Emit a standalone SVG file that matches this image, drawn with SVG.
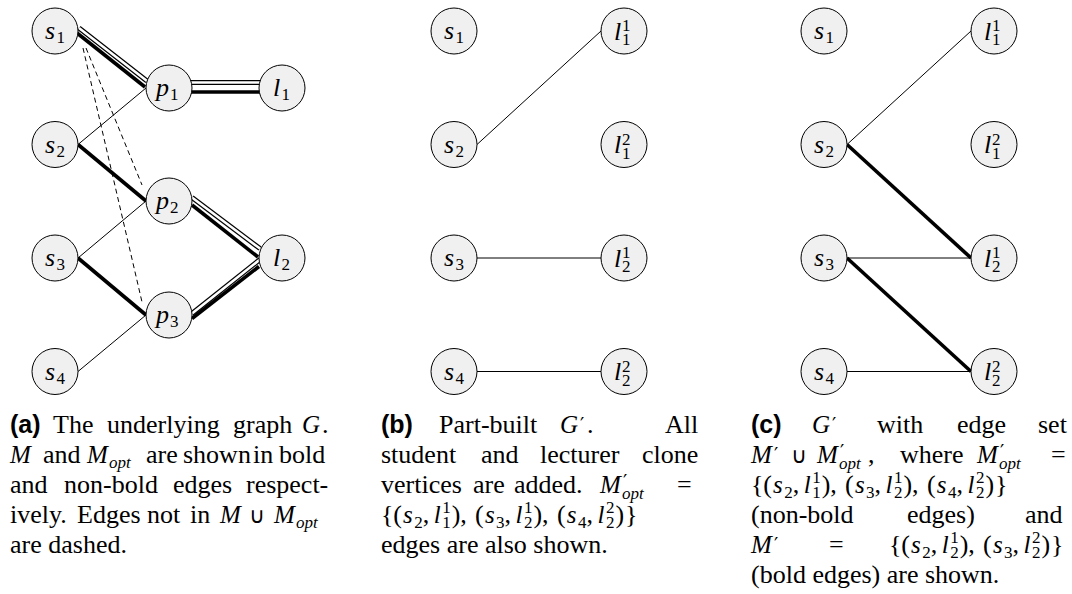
<svg xmlns="http://www.w3.org/2000/svg" width="1072" height="594" viewBox="0 0 1072 594">
<style>
.node circle{fill:#f0f0f0;stroke:#000;stroke-width:1}
text{fill:#000}
.mi{font-family:'Liberation Serif',serif;font-style:italic;font-size:26px}
.sc{font-family:'Liberation Serif',serif;font-size:17px}
.sci{font-family:'Liberation Serif',serif;font-style:italic;font-size:17px}
.cap{font-family:'Liberation Serif',serif;font-size:26px}
.capi{font-family:'Liberation Serif',serif;font-style:italic;font-size:25px}
.capb{font-family:'Liberation Sans',sans-serif;font-weight:bold;font-size:25px}
.pr{font-family:'DejaVu Sans',sans-serif;font-size:19px}
.cup{font-family:'DejaVu Sans',sans-serif;font-size:22px}
.thin{stroke:#000;stroke-width:1;fill:none}
.thick{stroke:#000;stroke-width:3.6;fill:none}
.dblo{stroke:#000;stroke-width:5;fill:none}
.dbli{stroke:#fff;stroke-width:2.6;fill:none}
.dash{stroke:#000;stroke-width:1;stroke-dasharray:5 3.5;fill:none}
</style>

<g id="connectors">
  <line class="dash" x1="86" y1="48" x2="142" y2="185"/>
  <line class="dash" x1="83" y1="48" x2="142" y2="302"/>
  <line class="dblo" x1="79" y1="28" x2="147" y2="81"/>
  <line class="dbli" x1="79" y1="28" x2="147" y2="81"/>
  <line class="thick" x1="77" y1="33" x2="145" y2="87"/>
  <line class="dblo" x1="190" y1="82.5" x2="261" y2="82.5"/>
  <line class="dbli" x1="190" y1="82.5" x2="261" y2="82.5"/>
  <line class="thick" x1="190" y1="92" x2="261" y2="92"/>
  <line class="thin" x1="78" y1="144.5" x2="146" y2="88"/>
  <line class="thick" x1="78" y1="144.5" x2="146" y2="201"/>
  <line class="thin" x1="78" y1="258" x2="146" y2="201"/>
  <line class="thick" x1="78" y1="258" x2="146" y2="315"/>
  <line class="thin" x1="78" y1="371.5" x2="146" y2="315"/>
  <line class="dblo" x1="192" y1="197.5" x2="260" y2="248.5"/>
  <line class="dbli" x1="192" y1="197.5" x2="260" y2="248.5"/>
  <line class="thick" x1="192" y1="205" x2="258" y2="257"/>
  <line class="dblo" x1="192" y1="313.5" x2="260" y2="259.5"/>
  <line class="dbli" x1="192" y1="313.5" x2="260" y2="259.5"/>
  <line class="thick" x1="192" y1="318.5" x2="259" y2="266.5"/>
  <line class="thin" x1="477" y1="144.5" x2="601" y2="31"/>
  <line class="thin" x1="477" y1="258" x2="601" y2="258"/>
  <line class="thin" x1="477" y1="371.5" x2="601" y2="371.5"/>
  <line class="thin" x1="847" y1="144.5" x2="971" y2="31"/>
  <line class="thick" x1="847" y1="144.5" x2="971" y2="258"/>
  <line class="thin" x1="847" y1="258" x2="971" y2="258"/>
  <line class="thick" x1="847" y1="258" x2="971" y2="371.5"/>
  <line class="thin" x1="847" y1="371.5" x2="971" y2="371.5"/>
</g>

<g id="a-s1" class="node"><circle cx="55" cy="31" r="23"/><text class="mi" x="45" y="39">s</text><text class="sc" x="56.5" y="43">1</text></g>
<g id="a-s2" class="node"><circle cx="55" cy="144.5" r="23"/><text class="mi" x="45" y="152.5">s</text><text class="sc" x="56.5" y="156.5">2</text></g>
<g id="a-s3" class="node"><circle cx="55" cy="258" r="23"/><text class="mi" x="45" y="266">s</text><text class="sc" x="56.5" y="270">3</text></g>
<g id="a-s4" class="node"><circle cx="55" cy="371.5" r="23"/><text class="mi" x="45" y="379.5">s</text><text class="sc" x="56.5" y="383.5">4</text></g>
<g id="a-p1" class="node"><circle cx="169" cy="88" r="23"/><text class="mi" x="156" y="96">p</text><text class="sc" x="170" y="100">1</text></g>
<g id="a-p2" class="node"><circle cx="169" cy="201" r="23"/><text class="mi" x="156" y="209">p</text><text class="sc" x="170" y="213">2</text></g>
<g id="a-p3" class="node"><circle cx="169" cy="315" r="23"/><text class="mi" x="156" y="323">p</text><text class="sc" x="170" y="327">3</text></g>
<g id="a-l1" class="node"><circle cx="282" cy="88" r="23"/><text class="mi" x="273" y="96">l</text><text class="sc" x="281.5" y="100">1</text></g>
<g id="a-l2" class="node"><circle cx="282" cy="258" r="23"/><text class="mi" x="273" y="266">l</text><text class="sc" x="281.5" y="270">2</text></g>

<g id="b-s1" class="node"><circle cx="454" cy="31" r="23"/><text class="mi" x="444" y="39">s</text><text class="sc" x="455.5" y="43">1</text></g>
<g id="b-s2" class="node"><circle cx="454" cy="144.5" r="23"/><text class="mi" x="444" y="152.5">s</text><text class="sc" x="455.5" y="156.5">2</text></g>
<g id="b-s3" class="node"><circle cx="454" cy="258" r="23"/><text class="mi" x="444" y="266">s</text><text class="sc" x="455.5" y="270">3</text></g>
<g id="b-s4" class="node"><circle cx="454" cy="371.5" r="23"/><text class="mi" x="444" y="379.5">s</text><text class="sc" x="455.5" y="383.5">4</text></g>
<g id="b-l11" class="node"><circle cx="624" cy="31" r="23"/><text class="mi" x="614" y="39.5">l</text><text class="sc" x="622" y="31">1</text><text class="sc" x="622" y="45">1</text></g>
<g id="b-l12" class="node"><circle cx="624" cy="144.5" r="23"/><text class="mi" x="614" y="153">l</text><text class="sc" x="622" y="144.5">2</text><text class="sc" x="622" y="158.5">1</text></g>
<g id="b-l21" class="node"><circle cx="624" cy="258" r="23"/><text class="mi" x="614" y="266.5">l</text><text class="sc" x="622" y="258">1</text><text class="sc" x="622" y="272">2</text></g>
<g id="b-l22" class="node"><circle cx="624" cy="371.5" r="23"/><text class="mi" x="614" y="380">l</text><text class="sc" x="622" y="371.5">2</text><text class="sc" x="622" y="385.5">2</text></g>

<g id="c-s1" class="node"><circle cx="824" cy="31" r="23"/><text class="mi" x="814" y="39">s</text><text class="sc" x="825.5" y="43">1</text></g>
<g id="c-s2" class="node"><circle cx="824" cy="144.5" r="23"/><text class="mi" x="814" y="152.5">s</text><text class="sc" x="825.5" y="156.5">2</text></g>
<g id="c-s3" class="node"><circle cx="824" cy="258" r="23"/><text class="mi" x="814" y="266">s</text><text class="sc" x="825.5" y="270">3</text></g>
<g id="c-s4" class="node"><circle cx="824" cy="371.5" r="23"/><text class="mi" x="814" y="379.5">s</text><text class="sc" x="825.5" y="383.5">4</text></g>
<g id="c-l11" class="node"><circle cx="994" cy="31" r="23"/><text class="mi" x="984" y="39.5">l</text><text class="sc" x="992" y="31">1</text><text class="sc" x="992" y="45">1</text></g>
<g id="c-l12" class="node"><circle cx="994" cy="144.5" r="23"/><text class="mi" x="984" y="153">l</text><text class="sc" x="992" y="144.5">2</text><text class="sc" x="992" y="158.5">1</text></g>
<g id="c-l21" class="node"><circle cx="994" cy="258" r="23"/><text class="mi" x="984" y="266.5">l</text><text class="sc" x="992" y="258">1</text><text class="sc" x="992" y="272">2</text></g>
<g id="c-l22" class="node"><circle cx="994" cy="371.5" r="23"/><text class="mi" x="984" y="380">l</text><text class="sc" x="992" y="371.5">2</text><text class="sc" x="992" y="385.5">2</text></g>

<g id="caption-a">
<text class="capb" x="10" y="433">(a)</text>
<text class="cap" x="53" y="433">The</text>
<text class="cap" x="107" y="433">underlying</text>
<text class="cap" x="233" y="433">graph</text>
<text class="capi" x="302" y="433">G</text><text class="cap" x="322" y="433">.</text>
<text class="capi" x="10" y="463">M</text>
<text class="cap" x="43" y="463">and</text>
<text class="capi" x="87" y="463">M</text><text class="sci" x="109" y="468">opt</text>
<text class="cap" x="146" y="463">are</text>
<text class="cap" x="183" y="463">shown</text>
<text class="cap" x="253" y="463">in</text>
<text class="cap" x="279" y="463">bold</text>
<text class="cap" x="10" y="493">and</text>
<text class="cap" x="64" y="493">non-bold</text>
<text class="cap" x="173" y="493">edges</text>
<text class="cap" x="246" y="493">respect-</text>
<text class="cap" x="10" y="523">ively.</text>
<text class="cap" x="77" y="523">Edges</text>
<text class="cap" x="147" y="523">not</text>
<text class="cap" x="190" y="523">in</text>
<text class="capi" x="220" y="523">M</text>
<text class="cup" x="249" y="523">&#x222A;</text>
<text class="capi" x="274" y="523">M</text><text class="sci" x="296" y="528">opt</text>
<text class="cap" x="10" y="553">are dashed.</text>
</g>

<g id="caption-b">
<text class="capb" x="381" y="433">(b)</text>
<text class="cap" x="439" y="433">Part-built</text>
<text class="capi" x="560" y="433">G</text><text class="pr" x="580" y="431">&#x2032;</text><text class="cap" x="587" y="433">.</text>
<text class="cap" x="665" y="433">All</text>
<text class="cap" x="381" y="463">student</text>
<text class="cap" x="481" y="463">and</text>
<text class="cap" x="540" y="463">lecturer</text>
<text class="cap" x="642" y="463">clone</text>
<text class="cap" x="381" y="493">vertices</text>
<text class="cap" x="473" y="493">are</text>
<text class="cap" x="514" y="493">added.</text>
<text class="capi" x="600" y="493">M</text><text class="pr" x="623" y="488">&#x2032;</text><text class="sci" x="622" y="499">opt</text>
<text class="cap" x="677" y="493">=</text>
<text class="cap" x="381" y="523">{</text>
<text class="cap" x="393.3" y="523">(</text><text class="capi" x="403.1" y="523">s</text><text class="sc" x="414.3" y="528">2</text><text class="cap" x="422.8" y="523">,</text><text class="capi" x="433.8" y="523">l</text><text class="sc" x="442.3" y="513">1</text><text class="sc" x="442.3" y="528">1</text><text class="cap" x="451.8" y="523">)</text><text class="cap" x="460.3" y="523">,</text>
<text class="cap" x="475.1" y="523">(</text><text class="capi" x="484.9" y="523">s</text><text class="sc" x="496.1" y="528">3</text><text class="cap" x="504.6" y="523">,</text><text class="capi" x="515.6" y="523">l</text><text class="sc" x="524.1" y="513">1</text><text class="sc" x="524.1" y="528">2</text><text class="cap" x="533.6" y="523">)</text><text class="cap" x="542.1" y="523">,</text>
<text class="cap" x="556.9" y="523">(</text><text class="capi" x="566.7" y="523">s</text><text class="sc" x="577.9" y="528">4</text><text class="cap" x="586.4" y="523">,</text><text class="capi" x="597.4" y="523">l</text><text class="sc" x="605.9" y="513">2</text><text class="sc" x="605.9" y="528">2</text><text class="cap" x="615.4" y="523">)</text>
<text class="cap" x="625" y="523">}</text>
<text class="cap" x="381" y="553">edges are also shown.</text>
</g>

<g id="caption-c">
<text class="capb" x="751" y="433">(c)</text>
<text class="capi" x="812" y="433">G</text><text class="pr" x="832" y="431">&#x2032;</text>
<text class="cap" x="877" y="433">with</text>
<text class="cap" x="957" y="433">edge</text>
<text class="cap" x="1038" y="433">set</text>
<text class="capi" x="751" y="463">M</text><text class="pr" x="774" y="461">&#x2032;</text>
<text class="cup" x="791" y="463">&#x222A;</text>
<text class="capi" x="817" y="463">M</text><text class="pr" x="840" y="458">&#x2032;</text><text class="sci" x="839" y="469">opt</text><text class="cap" x="868" y="463">,</text>
<text class="cap" x="900" y="463">where</text>
<text class="capi" x="977" y="463">M</text><text class="pr" x="1000" y="458">&#x2032;</text><text class="sci" x="999" y="469">opt</text>
<text class="cap" x="1051" y="463">=</text>
<text class="cap" x="751" y="493">{</text>
<text class="cap" x="763.3" y="493">(</text><text class="capi" x="773.1" y="493">s</text><text class="sc" x="784.3" y="498">2</text><text class="cap" x="792.8" y="493">,</text><text class="capi" x="803.8" y="493">l</text><text class="sc" x="812.3" y="483">1</text><text class="sc" x="812.3" y="498">1</text><text class="cap" x="821.8" y="493">)</text><text class="cap" x="830.3" y="493">,</text>
<text class="cap" x="845.1" y="493">(</text><text class="capi" x="854.9" y="493">s</text><text class="sc" x="866.1" y="498">3</text><text class="cap" x="874.6" y="493">,</text><text class="capi" x="885.6" y="493">l</text><text class="sc" x="894.1" y="483">1</text><text class="sc" x="894.1" y="498">2</text><text class="cap" x="903.6" y="493">)</text><text class="cap" x="912.1" y="493">,</text>
<text class="cap" x="926.9" y="493">(</text><text class="capi" x="936.7" y="493">s</text><text class="sc" x="947.9" y="498">4</text><text class="cap" x="956.4" y="493">,</text><text class="capi" x="967.4" y="493">l</text><text class="sc" x="975.9" y="483">2</text><text class="sc" x="975.9" y="498">2</text><text class="cap" x="985.4" y="493">)</text>
<text class="cap" x="995" y="493">}</text>
<text class="cap" x="751" y="523">(non-bold</text>
<text class="cap" x="907" y="523">edges)</text>
<text class="cap" x="1025" y="523">and</text>
<text class="capi" x="751" y="553">M</text><text class="pr" x="774" y="551">&#x2032;</text>
<text class="cap" x="829" y="553">=</text>
<text class="cap" x="889" y="553">{</text>
<text class="cap" x="901.3" y="553">(</text><text class="capi" x="911.1" y="553">s</text><text class="sc" x="922.3" y="558">2</text><text class="cap" x="930.8" y="553">,</text><text class="capi" x="941.8" y="553">l</text><text class="sc" x="950.3" y="543">1</text><text class="sc" x="950.3" y="558">2</text><text class="cap" x="959.8" y="553">)</text><text class="cap" x="968.3" y="553">,</text>
<text class="cap" x="983.1" y="553">(</text><text class="capi" x="992.9" y="553">s</text><text class="sc" x="1004.1" y="558">3</text><text class="cap" x="1012.6" y="553">,</text><text class="capi" x="1023.6" y="553">l</text><text class="sc" x="1032.1" y="543">2</text><text class="sc" x="1032.1" y="558">2</text><text class="cap" x="1041.6" y="553">)</text>
<text class="cap" x="1051" y="553">}</text>
<text class="cap" x="751" y="583">(bold edges) are shown.</text>
</g>
</svg>
